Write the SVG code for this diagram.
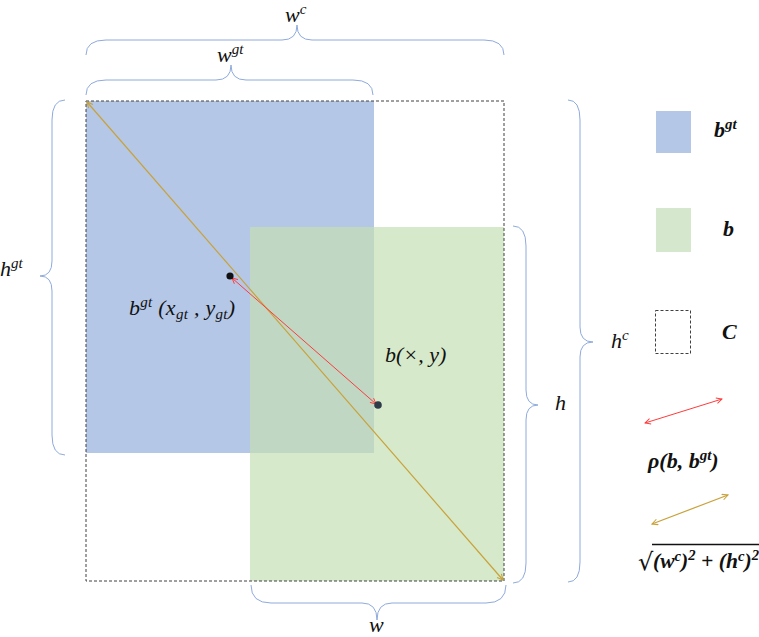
<svg xmlns="http://www.w3.org/2000/svg" width="759" height="637" viewBox="0 0 759 637">
<style>
.brace{fill:none;stroke:#8faadc;stroke-width:1}
.t{font-family:"Liberation Serif","DejaVu Serif",serif;font-style:italic;font-size:22px;fill:#111}
.lb{font-family:"Liberation Serif","DejaVu Serif",serif;font-style:italic;font-weight:bold;font-size:22px;fill:#111}
.sup{font-size:15px}
.dash{fill:none;stroke:#404040;stroke-width:1;stroke-dasharray:3 2}
.gold{stroke:#c9a13a;stroke-width:1.2;fill:none}
.red{stroke:#ff3b3b;stroke-width:1;fill:none}
</style>
<defs>
<marker id="ag" viewBox="0 0 10 10" refX="9" refY="5" markerWidth="6" markerHeight="6" orient="auto-start-reverse"><path d="M1,1 L9,5 L1,9" fill="none" stroke="#c9a13a" stroke-width="1.5"/></marker>
<marker id="ar" viewBox="0 0 10 10" refX="9" refY="5" markerWidth="7" markerHeight="7" orient="auto-start-reverse"><path d="M1,1 L9,5 L1,9" fill="none" stroke="#ff3b3b" stroke-width="1.3"/></marker>
</defs>
<rect width="759" height="637" fill="#fff"/>

<g id="bgt-box"><rect x="86" y="101" width="288" height="352" fill="#b4c7e7"/></g>
<g id="b-box"><rect x="250" y="227" width="254" height="354" fill="#c5e0b4" fill-opacity="0.7"/></g>
<g id="c-box"><rect x="86" y="101" width="418" height="480" class="dash"/></g>

<g id="connectors">
<line x1="87" y1="102" x2="503" y2="580" class="gold" marker-start="url(#ag)" marker-end="url(#ag)"/>
<line x1="232" y1="278" x2="376" y2="404" class="red" marker-start="url(#ar)" marker-end="url(#ar)"/>
<line x1="645" y1="423" x2="722" y2="399" class="red" marker-start="url(#ar)" marker-end="url(#ar)"/>
<line x1="652" y1="524" x2="728" y2="495" class="gold" marker-start="url(#ag)" marker-end="url(#ag)"/>
</g>

<g id="points">
<circle cx="230" cy="276" r="3.6" fill="#111"/>
<circle cx="378" cy="405" r="3.8" fill="#2e3b48"/>
</g>

<g id="braces">
<path class="brace" d="M86,55 Q86,40 106,40 L282,40 Q297,40 297,25 Q297,40 312,40 L484,40 Q504,40 504,55"/>
<path class="brace" d="M86,95 Q86,80 106,80 L216,80 Q231,80 231,65 Q231,80 246,80 L353,80 Q373,80 373,95"/>
<path class="brace" d="M251,585 Q251,603 271,603 L362,603 Q377,603 377,620 Q377,603 392,603 L486,603 Q506,603 506,585"/>
<path class="brace" d="M65,100 Q52,100 52,120 L52,261 Q52,276 40,276 Q52,276 52,291 L52,435 Q52,455 65,455"/>
<path class="brace" d="M513,226 Q526,226 526,246 L526,390 Q526,405 538,405 Q526,405 526,420 L526,563 Q526,583 513,583"/>
<path class="brace" d="M568,100 Q580,100 580,120 L580,327 Q580,342 593,342 Q580,342 580,357 L580,562 Q580,582 568,582"/>
</g>

<g id="labels">
<text class="t" x="285" y="22">w<tspan class="sup" dy="-8">c</tspan></text>
<text class="t" x="217" y="62">w<tspan class="sup" dy="-8">gt</tspan></text>
<text class="t" x="0" y="276">h<tspan class="sup" dy="-8">gt</tspan></text>
<text class="t" x="555" y="410">h</text>
<text class="t" x="611" y="348">h<tspan class="sup" dy="-8">c</tspan></text>
<text class="t" x="369" y="632">w</text>
<text class="t" x="129" y="315" textLength="106" lengthAdjust="spacing">b<tspan class="sup" dy="-8">gt</tspan><tspan dy="8"> (x</tspan><tspan class="sup" dy="4">gt</tspan><tspan dy="-4"> , y</tspan><tspan class="sup" dy="4">gt</tspan><tspan dy="-4">)</tspan></text>
<text class="t" x="385" y="362">b(×, y)</text>
</g>

<g id="legend-bgt"><rect x="656" y="111" width="35" height="42" fill="#b4c7e7"/><text class="lb" x="714" y="137">b<tspan class="sup" dy="-8">gt</tspan></text></g>
<g id="legend-b"><rect x="656" y="208" width="35" height="44" fill="#d5e8ce"/><text class="lb" x="723" y="236">b</text></g>
<g id="legend-c"><rect x="655.5" y="310.5" width="35" height="43" class="dash" stroke="#555"/><text class="lb" x="722" y="339">C</text></g>
<g id="legend-rho"><text class="lb" x="648" y="468">ρ(b, b<tspan class="sup" dy="-8">gt</tspan><tspan dy="8">)</tspan></text></g>
<g id="legend-diag">
<text x="638" y="570" font-family="DejaVu Sans, sans-serif" font-size="24" fill="#111">√</text>
<line x1="652" y1="544.5" x2="759" y2="544.5" stroke="#111" stroke-width="1.3"/>
<text class="lb" x="653" y="568" font-size="20" textLength="106" lengthAdjust="spacingAndGlyphs">(w<tspan class="sup" dy="-7">c</tspan><tspan dy="7">)</tspan><tspan class="sup" dy="-8">2</tspan><tspan dy="8"> + (h</tspan><tspan class="sup" dy="-7">c</tspan><tspan dy="7">)</tspan><tspan class="sup" dy="-8">2</tspan></text>
</g>
</svg>
